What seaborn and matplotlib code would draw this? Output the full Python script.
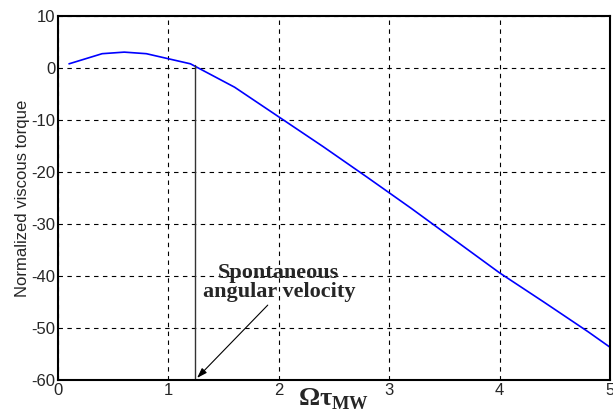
import matplotlib
matplotlib.use("Agg")
import matplotlib.pyplot as plt
import numpy as np
import pandas as pd
import seaborn as sns

# curve
omega_tau = [0.1, 0.4, 0.6, 0.8, 1.2, 1.6, 2.0, 2.4, 2.8, 3.2, 3.6, 4.0, 4.4, 4.8, 5.0]
torque = [0.8, 2.75, 3.05, 2.75, 0.8, -3.7, -9.4, -15.1, -21.0, -27.0, -33.2,
          -39.4, -45.0, -50.7, -53.7]
xticks = [0, 1, 2, 3, 4, 5]
yticks = [10, 0, -10, -20, -30, -40, -50, -60]
spont_x = 1.24

df = pd.DataFrame({"x": omega_tau, "y": torque})

sns.set_style("white")
plt.rcParams["font.family"] = ["Liberation Sans", "DejaVu Sans"]
plt.rcParams["axes.unicode_minus"] = False

fig = plt.figure(figsize=(6.13, 4.12), dpi=100)
ax = fig.add_axes([0.0946, 0.0777, 0.9005, 0.8835])

sns.lineplot(data=df, x="x", y="y", ax=ax, color="#0000ff", linewidth=1.2)

# vertical marker at the spontaneous angular velocity
ax.plot([spont_x, spont_x], [0.6, -60], color="#333333", linewidth=1.0)

ax.set_xlim(0, 5)
ax.set_ylim(-60, 10)
ax.set_xticks(xticks)
ax.set_yticks(yticks)
ax.tick_params(direction="in", length=4, width=0.8, labelsize=12, pad=2)
ax.grid(True, color="black", linestyle=(0, (4, 4)), linewidth=0.8)
for s in ax.spines.values():
    s.set_color("black")
    s.set_linewidth(1.5)

ax.set_ylabel("Normalized viscous torque", fontsize=12, labelpad=1)
ax.set_xlabel(r"Ωτ$_\mathregular{MW}$", fontsize=19, fontweight="bold",
              family="Liberation Serif", labelpad=-8)

ax.text(2.0, -41.3, "Spontaneous\nangular velocity", ha="center", va="center",
        fontsize=16, fontweight="bold", family="Liberation Serif", linespacing=0.95)
ax.annotate("", xy=(1.26, -59.6), xytext=(1.9, -45.6),
            arrowprops=dict(arrowstyle="-|>,head_length=0.6,head_width=0.2",
                            color="black", linewidth=0.8, shrinkA=0, shrinkB=0))

fig.savefig("out.png", dpi=100)
